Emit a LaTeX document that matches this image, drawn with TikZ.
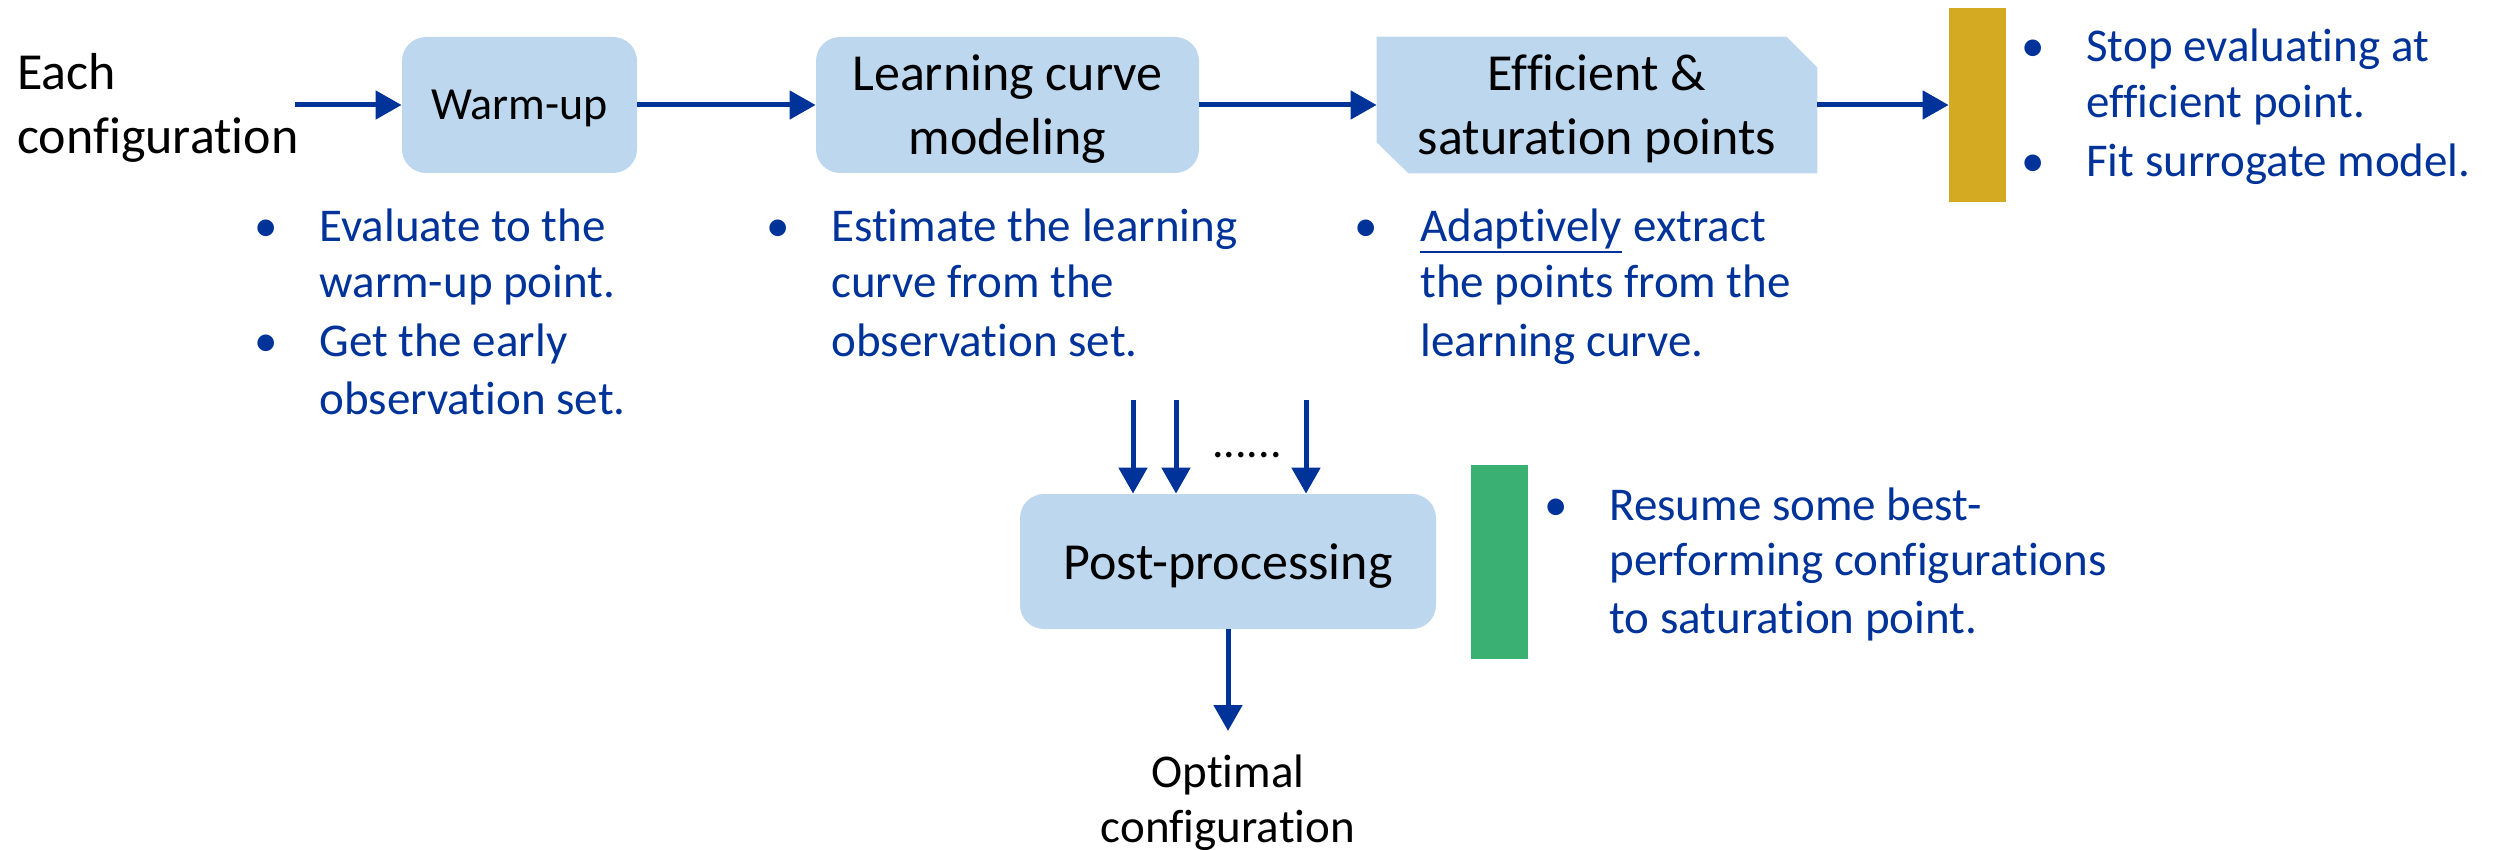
\documentclass[tikz,border=0pt]{standalone}
\usepackage{fontspec}
\setmainfont{Carlito}[Ligatures=NoCommon]
\usetikzlibrary{arrows.meta,backgrounds}
\definecolor{boxblue}{HTML}{BDD7EE}
\definecolor{txtblue}{HTML}{003399}
\definecolor{goldbar}{HTML}{D4AA22}
\definecolor{greenbar}{HTML}{3BB073}
\begin{document}
\begin{tikzpicture}[x=0.5pt,y=-0.5pt,
  stage/.style={fill=boxblue, rounded corners=12pt, inner sep=0, text depth=0pt, align=center, font=\fontsize{26}{32}\selectfont},
  flow/.style={draw=txtblue, line width=2.5pt, -{Triangle[length=13pt,width=14pt]}},
  btxt/.style={text=txtblue, font=\fontsize{23.5}{28.5}\selectfont, anchor=base west, inner sep=0},
  bdot/.style={text=txtblue, font=\fontsize{23.5}{28.5}\selectfont, anchor=base, inner sep=0},
  plain/.style={font=\fontsize{26}{32}\selectfont, inner sep=0},
  plainsm/.style={font=\fontsize{23.5}{28.5}\selectfont, inner sep=0, anchor=base},
  bar/.style={inner sep=0, minimum width=28.5pt, minimum height=97pt}]

\useasboundingbox (0,0) rectangle (2496,850);

% stages
\node[stage, font=\fontsize{23}{28}\selectfont, minimum width=117.5pt, minimum height=68pt] (warm) at (519.5,105) {Warm-up};
\node[stage, minimum width=191.5pt, minimum height=68pt] (lcm) at (1007.5,105) {Learning curve\\modeling};
\node[inner sep=0, text depth=0pt, align=center, font=\fontsize{26}{32}\selectfont, minimum width=220pt, minimum height=68pt] (eff) at (1597,105) {Efficient \&\\saturation points};
\begin{scope}[on background layer]
\fill[boxblue] (eff.north west) -- ([xshift=-15.5pt]eff.north east) -- ([yshift=-15.5pt]eff.north east) -- (eff.south east) -- ([xshift=16pt]eff.south west) -- ([yshift=15.5pt]eff.south west) -- cycle;
\end{scope}
\node[bar, fill=goldbar] (gbar) at (1977.5,105) {};
\node[stage, minimum width=208pt, minimum height=67.5pt] (post) at (1228,561.5) {Post-processing};
\node[bar, fill=greenbar] (gnbar) at (1499.5,562) {};

% input label
\node[plain, anchor=base west] (each1) at (17,90) {Each};
\node[plain, anchor=base west] (each2) at (17,154) {configuration};
\coordinate (start) at (295,105);

% main flow
\draw[flow] (start) -- (warm.west);
\draw[flow] (warm) -- (lcm);
\draw[flow] (lcm) -- (eff);
\draw[flow] (eff) -- (gbar);

% down arrows
\coordinate (d1) at (1133,400);
\coordinate (d2) at (1176,400);
\coordinate (d3) at (1306,400);
\draw[flow] (d1) -- (d1 |- post.north);
\draw[flow] (d2) -- (d2 |- post.north);
\draw[flow] (d3) -- (d3 |- post.north);
\node[font=\fontsize{23}{28}\selectfont, anchor=base, inner sep=0] (dots) at (1247,457) {......};

% output
\coordinate (out) at (1228,731);
\draw[flow] (post) -- (out);
\node[plainsm] (opt1) at (1228,787) {Optimal};
\node[plainsm] (opt2) at (1228,842) {configuration};

% column 1
\node[bdot] (b1a) at (266,242) {\textbullet};
\node[btxt] (c1a) at (319,242) {Evaluate to the};
\node[btxt] (c1b) at (319,298) {warm-up point.};
\node[bdot] (b1b) at (266,357) {\textbullet};
\node[btxt] (c1c) at (319,357) {Get the early};
\node[btxt] (c1d) at (319,415) {observation set.};

% column 2
\node[bdot] (b2a) at (778,242) {\textbullet};
\node[btxt] (c2a) at (831,242) {Estimate the learning};
\node[btxt] (c2b) at (831,298) {curve from the};
\node[btxt] (c2c) at (831,357) {observation set.};

% column 3
\node[bdot] (b3a) at (1366,242) {\textbullet};
\node[btxt] (c3a) at (1420,242) {Adaptively};
\node[btxt] (c3x) at (c3a.base east) {\ extract};
\draw[txtblue, line width=1.3pt] ([yshift=-5pt]c3a.base west) -- ([yshift=-5pt]c3a.base east);
\node[btxt] (c3b) at (1420,298) {the points from the};
\node[btxt] (c3c) at (1420,357) {learning curve.};

% gold notes
\node[bdot] (bga) at (2033,62) {\textbullet};
\node[btxt] (cga) at (2086,62) {Stop evaluating at};
\node[btxt] (cgb) at (2086,118) {efficient point.};
\node[bdot] (bgb) at (2033,177) {\textbullet};
\node[btxt] (cgc) at (2086,177) {Fit surrogate model.};

% green notes
\node[bdot] (bna) at (1556,520) {\textbullet};
\node[btxt] (cna) at (1609,520) {Resume some best-};
\node[btxt] (cnb) at (1609,575) {performing configurations};
\node[btxt] (cnc) at (1609,633) {to saturation point.};
\end{tikzpicture}
\end{document}
